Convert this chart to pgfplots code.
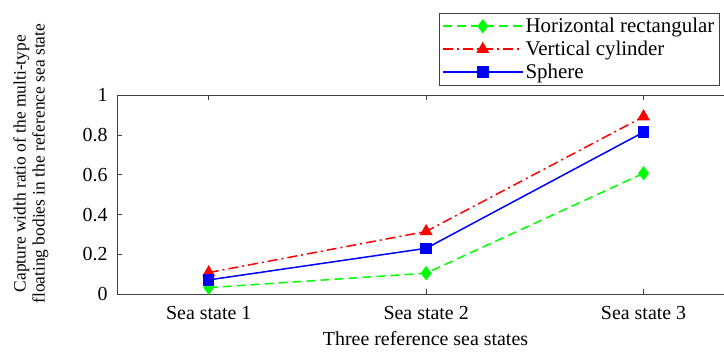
\documentclass[border=0pt]{standalone}
\usepackage{fontspec}
\setmainfont{Liberation Serif}
\usepackage{pgfplots}
\pgfplotsset{compat=1.18}
\definecolor{lgreen}{RGB}{0,255,0}
\definecolor{lred}{RGB}{255,0,0}
\definecolor{lblue}{RGB}{0,0,255}
\begin{document}
\begin{tikzpicture}
\useasboundingbox (0,0) rectangle (724bp,356bp);
\begin{axis}[
  at={(117bp,62bp)}, anchor=south west,
  scale only axis,
  width=607bp, height=198.6bp,
  xmin=0.578, xmax=3.37,
  ymin=0, ymax=1,
  xtick={1,2,3},
  xticklabels={Sea state 1,Sea state 2,Sea state 3},
  ytick={0,0.2,0.4,0.6,0.8,1},
  yticklabels={0,0.2,0.4,0.6,0.8,1},
  /pgf/number format/assume math mode=true,
  xtick pos=both, ytick pos=left,
  tick align=inside,
  major tick length=5bp,
  axis line style={black!75, line width=0.9bp},
  tick style={black!75, line width=0.9bp},
  ticklabel style={font=\fontsize{20}{22}\selectfont},
  xticklabel style={yshift=-9bp},
  yticklabel style={xshift=-6bp},
  xlabel={Three reference sea states},
  xlabel style={font=\fontsize{20}{22}\selectfont, yshift=-5bp, xshift=5bp},
  ylabel={Capture width ratio of the multi-type\\floating bodies in the reference sea state},
  ylabel style={font=\fontsize{17.5}{19}\selectfont, align=center, at={(axis description cs:-0.142,0.656)}, anchor=center},
  legend style={at={(axis description cs:0.993,1.416)}, anchor=north east,
    font=\fontsize{21}{22}\selectfont, draw=black!75, line width=0.9bp,
    inner sep=3bp, row sep=3bp,
    /tikz/every even column/.append style={column sep=2bp}},
  legend cell align=left,
  legend image code/.code={\draw[#1] (0bp,0bp) -- (40bp,0bp) -- (80bp,0bp); \draw[#1, solid] plot coordinates {(40bp,0bp)};},
]
\addplot[color=lgreen, line width=1.5bp, dash pattern=on 9bp off 5bp, mark=diamond*, mark size=6bp, mark options={solid, fill=lgreen}]
  coordinates {(1,0.032) (2,0.105) (3,0.608)};
\addlegendentry{Horizontal rectangular}
\addplot[color=lred, line width=1.5bp, dash pattern=on 10bp off 4bp on 2bp off 4bp, mark=triangle*, mark size=6bp, mark options={solid, fill=lred}]
  coordinates {(1,0.108) (2,0.315) (3,0.893)};
\addlegendentry{Vertical cylinder}
\addplot[color=lblue, line width=1.5bp, solid, mark=square*, mark size=5bp, mark options={solid, fill=lblue}]
  coordinates {(1,0.071) (2,0.230) (3,0.815)};
\addlegendentry{Sphere}
\end{axis}
\end{tikzpicture}
\end{document}
